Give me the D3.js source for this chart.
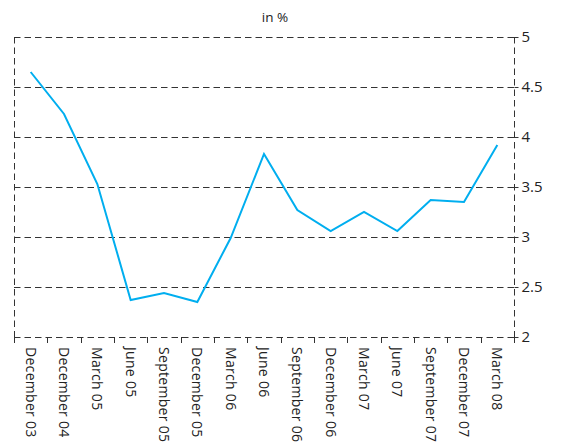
<!DOCTYPE html>
<html><head><meta charset="utf-8">
<script src="https://cdn.jsdelivr.net/npm/d3@7"></script>
<style>
html,body{margin:0;padding:0;background:#fff;}
text{font-family:"Open Sans","DejaVu Sans",sans-serif;fill:#222;}
</style></head>
<body><svg id="c" width="561" height="448"></svg>
<script>
const categories = ["December 03","December 04","March 05","June 05","September 05","December 05","March 06","June 06","September 06","December 06","March 07","June 07","September 07","December 07","March 08"];
const values = [4.65,4.23,3.53,2.37,2.44,2.35,2.99,3.83,3.27,3.06,3.25,3.06,3.37,3.35,3.92];
const yTicks = [2,2.5,3,3.5,4,4.5,5];
const yTickLabels = ["2","2.5","3","3.5","4","4.5","5"];
const unitLabel = "in %";

const svg = d3.select("#c");
const L = 14, R = 514, T = 37, B = 337;
const x = d3.scaleBand().domain(categories).range([L, R]);
const y = d3.scaleLinear().domain([2,5]).range([B, T]);
const dash = "6.5,4";
const gridCol = "#333";

svg.append("g").selectAll("line").data(yTicks).join("line")
  .attr("x1", L).attr("x2", R)
  .attr("y1", d => Math.round(y(d)) + 0.5).attr("y2", d => Math.round(y(d)) + 0.5)
  .attr("stroke", gridCol).attr("stroke-width", 1).attr("stroke-dasharray", dash);

[L, R].forEach(xx => {
  svg.append("line").attr("x1", xx + 0.5).attr("x2", xx + 0.5)
    .attr("y1", T).attr("y2", B + 6)
    .attr("stroke", gridCol).attr("stroke-width", 1).attr("stroke-dasharray", dash);
});

const bounds = categories.map(c => x(c)).concat([R]);
svg.append("g").selectAll("line").data(bounds).join("line")
  .attr("x1", d => Math.round(d) + 0.5).attr("x2", d => Math.round(d) + 0.5)
  .attr("y1", B).attr("y2", B + 6)
  .attr("stroke", gridCol).attr("stroke-width", 1);

const yAxis = d3.axisRight(y).tickValues(yTicks).tickFormat((d,i) => yTickLabels[i]).tickSize(4).tickPadding(3);
const ya = svg.append("g").attr("transform", `translate(${R + 0.5},0)`).call(yAxis);
ya.select(".domain").remove();
ya.selectAll(".tick line").attr("stroke", gridCol);
ya.selectAll(".tick text").attr("font-size", 15).attr("fill", "#222")
  .style("font-family", '"Open Sans","DejaVu Sans",sans-serif');

svg.append("g").selectAll("text").data(categories).join("text")
  .attr("transform", d => `translate(${x(d) + x.bandwidth()/2},${B + 10}) rotate(90)`)
  .attr("dy", "0.35em")
  .attr("text-anchor", "start")
  .attr("font-size", 14)
  .attr("letter-spacing", 0.3)
  .text(d => d);

svg.append("text").attr("x", 275).attr("y", 22).attr("text-anchor", "middle")
  .attr("font-size", 13.5).text(unitLabel);

const line = d3.line().x((d,i) => x(categories[i]) + x.bandwidth()/2).y(d => y(d));
svg.append("path").datum(values).attr("d", line)
  .attr("fill", "none").attr("stroke", "#00AEEF").attr("stroke-width", 2)
  .attr("stroke-linejoin", "miter");
</script></body></html>
